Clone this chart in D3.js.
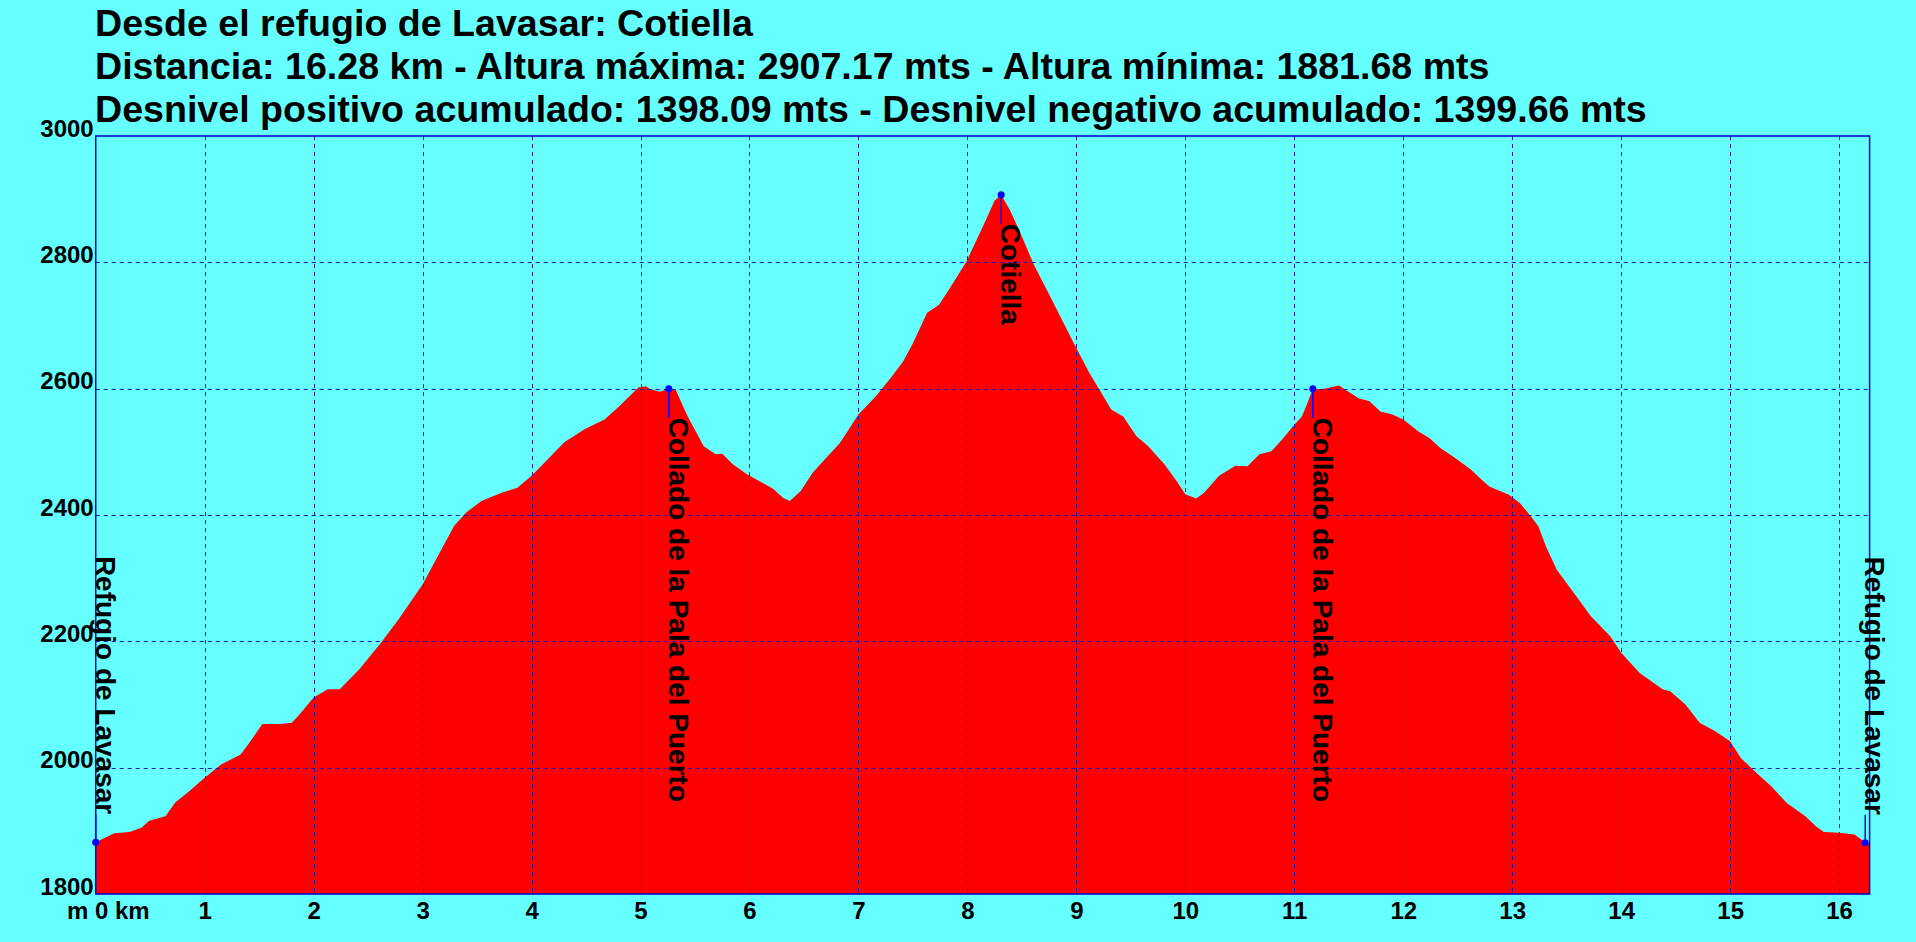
<!DOCTYPE html>
<html>
<head>
<meta charset="utf-8">
<script src="https://cdn.jsdelivr.net/npm/d3@7"></script>
<style>
  html, body { margin: 0; padding: 0; background: #66ffff; }
  svg { display: block; }
  text { font-family: Arial, "Liberation Sans", sans-serif; font-weight: bold; fill: #000; }
</style>
</head>
<body>
<svg id="profile" width="1916" height="942"></svg>
<script>
// Title lines
const titleLines = [
    "Desde el refugio de Lavasar: Cotiella",
    "Distancia: 16.28 km - Altura máxima: 2907.17 mts - Altura mínima: 1881.68 mts",
    "Desnivel positivo acumulado: 1398.09 mts - Desnivel negativo acumulado: 1399.66 mts"
];

// Profile: distance (km) and altitude (m)
const distKm = [
    0, 0.17, 0.31, 0.42, 0.49, 0.64, 0.73, 0.86, 1.0, 1.15, 1.33, 1.40, 1.53, 1.69, 1.80, 1.87,
    2.0, 2.13, 2.24, 2.42, 2.62, 2.78, 3.0, 3.14, 3.29, 3.40, 3.54, 3.72, 3.87, 4.0, 4.12, 4.30,
    4.49, 4.67, 4.81, 4.98, 5.05, 5.09, 5.18, 5.26, 5.32, 5.43, 5.58, 5.69, 5.75, 5.85, 5.98, 6.09,
    6.22, 6.31, 6.37, 6.47, 6.58, 6.69, 6.83, 7.0, 7.16, 7.31, 7.41, 7.50, 7.63, 7.74, 7.85, 7.99,
    8.14, 8.25, 8.31, 8.39, 8.50, 8.61, 8.76, 8.90, 9.0, 9.12, 9.23, 9.32, 9.43, 9.55, 9.66, 9.81,
    9.92, 10.0, 10.10, 10.17, 10.31, 10.46, 10.57, 10.68, 10.79, 10.89, 11.0, 11.07, 11.12, 11.17, 11.24, 11.31,
    11.41, 11.48, 11.59, 11.69, 11.79, 11.90, 12.0, 12.14, 12.24, 12.34, 12.48, 12.62, 12.72, 12.79, 12.97, 13.07,
    13.17, 13.24, 13.31, 13.41, 13.59, 13.72, 13.90, 14.0, 14.17, 14.38, 14.45, 14.59, 14.72, 14.86, 15.0, 15.10,
    15.24, 15.38, 15.52, 15.69, 15.79, 15.86, 16.0, 16.14, 16.24, 16.28
];
const altitude = [
    1882, 1896, 1898, 1905, 1916, 1923, 1945, 1963, 1984, 2005, 2021, 2037, 2069, 2069, 2071, 2084,
    2111, 2124, 2124, 2156, 2198, 2235, 2290, 2335, 2383, 2404, 2422, 2435, 2443, 2462, 2483, 2515,
    2536, 2551, 2573, 2602, 2604, 2599, 2595, 2600, 2599, 2557, 2509, 2496, 2497, 2480, 2464, 2454,
    2441, 2427, 2422, 2438, 2467, 2488, 2514, 2559, 2588, 2620, 2643, 2672, 2720, 2733, 2762, 2801,
    2856, 2898, 2907, 2883, 2841, 2796, 2746, 2698, 2664, 2625, 2593, 2567, 2556, 2525, 2509, 2480,
    2454, 2433, 2426, 2435, 2462, 2478, 2477, 2496, 2501, 2520, 2543, 2556, 2577, 2600, 2599, 2601,
    2605, 2597, 2585, 2580, 2564, 2559, 2551, 2532, 2522, 2506, 2490, 2472, 2456, 2445, 2432, 2419,
    2398, 2382, 2350, 2313, 2271, 2240, 2208, 2182, 2150, 2124, 2121, 2100, 2071, 2058, 2042, 2015,
    1992, 1970, 1944, 1923, 1907, 1898, 1897, 1894, 1882, 1880
];

// Waypoints
const wpNames = ["Refugio de Lavasar", "Collado de la Pala del Puerto", "Cotiella", "Collado de la Pala del Puerto", "Refugio de Lavasar"];
const wpKm = [0, 5.26, 8.31, 11.17, 16.24];
const wpAlt = [1882, 2600, 2907, 2600, 1881];

// Axis ticks
const kmTicks = d3.range(1, 17);
const altTicks = [1800, 2000, 2200, 2400, 2600, 2800, 3000];

const svg = d3.select("#profile");
const W = +svg.attr("width"), H = +svg.attr("height");

const plotLeft = 95.7, plotRight = 1869.6, plotTop = 136, plotBottom = 894;
const x = d3.scaleLinear().domain([0, 16.28]).range([plotLeft, plotRight]);
const y = d3.scaleLinear().domain([1800, 3000]).range([plotBottom, plotTop]);

svg.append("rect").attr("width", W).attr("height", H).attr("fill", "#66ffff");

const profile = distKm.map((d, i) => ({ km: d, alt: altitude[i] }));

const area = d3.area()
    .x(d => x(d.km))
    .y0(y(1800))
    .y1(d => y(d.alt));

svg.append("path")
    .datum(profile)
    .attr("fill", "#ff0000")
    .attr("d", area);

// Grid
const grid = svg.append("g")
    .attr("stroke", "#1c1cb4")
    .attr("stroke-width", 1)
    .attr("stroke-dasharray", "4,4");

grid.selectAll(".vgrid")
    .data(kmTicks)
    .join("line")
    .attr("x1", d => Math.round(x(d)) + 0.5)
    .attr("x2", d => Math.round(x(d)) + 0.5)
    .attr("y1", plotTop)
    .attr("y2", plotBottom);

grid.selectAll(".hgrid")
    .data(altTicks.slice(1, -1))
    .join("line")
    .attr("x1", plotLeft)
    .attr("x2", plotRight)
    .attr("y1", d => Math.round(y(d)) + 0.5)
    .attr("y2", d => Math.round(y(d)) + 0.5);

// Frame
svg.append("rect")
    .attr("x", plotLeft)
    .attr("y", plotTop)
    .attr("width", plotRight - plotLeft)
    .attr("height", plotBottom - plotTop)
    .attr("fill", "none")
    .attr("stroke", "#0000cc")
    .attr("stroke-width", 1.5);

// Axes (labels only, styled like the original)
const tickFont = "24px";
const xAxis = d3.axisBottom(x).tickValues(kmTicks).tickSize(0).tickPadding(0).tickFormat(d3.format("d"));
const gx = svg.append("g")
    .attr("transform", `translate(0, ${plotBottom})`)
    .call(xAxis);
gx.select(".domain").remove();
gx.selectAll("text")
    .attr("dy", null)
    .attr("y", 25)
    .attr("font-size", tickFont)
    .attr("font-family", "Arial, 'Liberation Sans', sans-serif")
    .attr("font-weight", "bold")
    .attr("fill", "#000");

svg.append("text")
    .attr("x", 67)
    .attr("y", plotBottom + 25)
    .attr("font-size", tickFont)
    .text("m 0 km");

const yAxis = d3.axisLeft(y).tickValues(altTicks).tickSize(0).tickPadding(0).tickFormat(d3.format("d"));
const gy = svg.append("g")
    .attr("transform", `translate(${plotLeft - 2}, 0)`)
    .call(yAxis);
gy.select(".domain").remove();
gy.selectAll("text")
    .attr("dy", null)
    .attr("x", 0)
    .attr("font-size", tickFont)
    .attr("font-family", "Arial, 'Liberation Sans', sans-serif")
    .attr("font-weight", "bold")
    .attr("fill", "#000");

// Waypoints: label below the point when it fits, otherwise above
const waypoints = wpNames.map((n, i) => ({ name: n, km: wpKm[i], alt: wpAlt[i] }));
const labelSize = 28;
const wp = svg.append("g");

waypoints.forEach(d => {
    const px = x(d.km), py = y(d.alt);
    const t = wp.append("text")
        .attr("font-size", labelSize + "px")
        .text(d.name);
    const len = t.node().getComputedTextLength();
    const below = py + 29 + len < plotBottom;
    const ty = below ? py + 29 : py - 28;
    t.attr("text-anchor", below ? "start" : "end")
        .attr("transform", `translate(${px}, ${ty}) rotate(90)`);

    wp.append("line")
        .attr("x1", px).attr("x2", px)
        .attr("y1", py).attr("y2", ty)
        .attr("stroke", "#0000ff")
        .attr("stroke-width", 1.5);

    wp.append("circle")
        .attr("cx", px).attr("cy", py)
        .attr("r", 3.5)
        .attr("fill", "#0000ff");
});

// Title
svg.append("g")
    .selectAll("text")
    .data(titleLines)
    .join("text")
    .attr("x", 95)
    .attr("y", (d, i) => 36 + i * 43)
    .attr("font-size", "37.6px")
    .text(d => d);
</script>
</body>
</html>
